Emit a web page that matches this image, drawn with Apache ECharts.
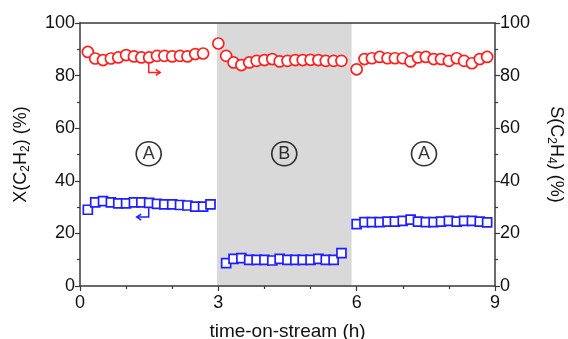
<!DOCTYPE html>
<html>
<head>
<meta charset="utf-8">
<script src="https://cdn.jsdelivr.net/npm/echarts@6/dist/echarts.min.js"></script>
<style>
  html, body { margin: 0; padding: 0; background: #fff; }
  #chart { width: 568px; height: 339px; }
</style>
</head>
<body>
<div id="chart"></div>
<script>
// Time on stream (h) for each measurement, by period (A, B, A)
var circTime1 = [0.17, 0.33, 0.5, 0.67, 0.83, 1.0, 1.17, 1.33, 1.5, 1.67, 1.83, 2.0, 2.17, 2.33, 2.5, 2.67];
var circTime2 = [3.0, 3.17, 3.33, 3.5, 3.67, 3.83, 4.0, 4.17, 4.33, 4.5, 4.67, 4.83, 5.0, 5.17, 5.33, 5.5, 5.67];
var circTime3 = [6.0, 6.17, 6.33, 6.5, 6.67, 6.83, 7.0, 7.17, 7.33, 7.5, 7.67, 7.83, 8.0, 8.17, 8.33, 8.5, 8.67, 8.83];
var sqTime1 = [0.17, 0.33, 0.5, 0.67, 0.83, 1.0, 1.17, 1.33, 1.5, 1.67, 1.83, 2.0, 2.17, 2.33, 2.5, 2.67, 2.83];
var sqTime2 = [3.17, 3.33, 3.5, 3.67, 3.83, 4.0, 4.17, 4.33, 4.5, 4.67, 4.83, 5.0, 5.17, 5.33, 5.5, 5.67];
var sqTime3 = [6.0, 6.17, 6.33, 6.5, 6.67, 6.83, 7.0, 7.17, 7.33, 7.5, 7.67, 7.83, 8.0, 8.17, 8.33, 8.5, 8.67, 8.83];

// Selectivity to ethylene S(C2H4), %
var selS1 = [89.0, 86.5, 85.9, 86.5, 86.9, 87.8, 87.3, 86.9, 86.9, 87.5, 87.5, 87.3, 87.5, 87.3, 88.2, 88.4];
var selS2 = [92.2, 87.5, 85.0, 84.0, 85.0, 85.6, 85.9, 86.3, 85.4, 85.6, 85.9, 85.9, 86.0, 85.9, 85.6, 85.6, 85.6];
var selS3 = [82.4, 86.3, 86.6, 87.1, 86.6, 86.6, 86.6, 85.4, 86.9, 87.1, 86.3, 86.3, 85.6, 86.6, 85.6, 84.7, 86.3, 87.1];

// Acetylene conversion X(C2H2), %
var convX1 = [29.0, 31.8, 32.3, 31.8, 31.4, 31.4, 31.8, 31.8, 31.6, 31.2, 31.0, 31.0, 30.8, 30.6, 30.2, 30.2, 31.0];
var convX2 = [8.7, 10.3, 10.6, 9.9, 9.9, 9.9, 9.7, 10.3, 9.9, 9.9, 9.9, 9.9, 10.3, 9.9, 9.9, 12.5];
var convX3 = [23.5, 24.3, 24.3, 24.3, 24.5, 24.5, 24.8, 25.2, 24.5, 24.3, 24.3, 24.5, 24.8, 24.5, 24.8, 24.8, 24.5, 24.2];

// Period B (shaded), h
var periodB = [2.97, 5.89];
// Period labels [time, value, letter]
var periodLabels = [[1.49, 50.3, 'A'], [4.43, 50.3, 'B'], [7.46, 50.3, 'A']];
// Axis pointers: path in data units, last point is the arrow tip
var arrowS = [[1.49, 85.0], [1.49, 81.2], [1.74, 81.2]];
var arrowX = [[1.49, 29.8], [1.49, 26.2], [1.23, 26.2]];

var RED = '#ff1f1f';
var BLUE = '#1f1fff';
var AXIS = '#3a3a3a';
var FONT = 'Liberation Sans, Arial, sans-serif';

function zip(xs, ys) {
  return xs.map(function (x, i) { return [x, ys[i]]; });
}
var circData = zip(circTime1, selS1).concat(zip(circTime2, selS2), zip(circTime3, selS3));
var sqData = zip(sqTime1, convX1).concat(zip(sqTime2, convX2), zip(sqTime3, convX3));

function arrowSeries(path, color) {
  return {
    type: 'custom',
    yAxisIndex: 0,
    z: 4,
    silent: true,
    data: [0],
    renderItem: function (params, api) {
      var pts = path.map(function (p) { return api.coord(p); });
      var tip = pts[pts.length - 1];
      var prev = pts[pts.length - 2];
      var dir = tip[0] > prev[0] ? 1 : -1;
      var head = 4.5;
      return {
        type: 'group',
        children: [
          { type: 'polyline', shape: { points: pts }, style: { stroke: color, lineWidth: 1.5, fill: null } },
          { type: 'polyline', shape: { points: [[tip[0] - dir * head, tip[1] - 3], tip, [tip[0] - dir * head, tip[1] + 3]] },
            style: { stroke: color, lineWidth: 1.5, fill: null } }
        ]
      };
    }
  };
}

var subRich = {
  sub: { fontSize: 12, fontFamily: FONT, color: '#111', padding: [10, 0, 0, 0] }
};

var chart = echarts.init(document.getElementById('chart'), null, { renderer: 'canvas' });
chart.setOption({
  animation: false,
  backgroundColor: '#ffffff',
  grid: { left: 80, right: 73, top: 23, bottom: 53, show: false, containLabel: false, outerBoundsMode: 'none' },
  xAxis: [
    {
      type: 'value', min: 0, max: 9, interval: 3,
      name: 'time-on-stream (h)', nameLocation: 'middle', nameGap: 36,
      nameTextStyle: { fontSize: 19, fontFamily: FONT, color: '#111' },
      axisLine: { show: true, onZero: false, lineStyle: { color: AXIS, width: 1.5 } },
      axisTick: { show: true, length: 5, lineStyle: { color: AXIS, width: 1.2 } },
      minorTick: { show: true, splitNumber: 3, length: 3, lineStyle: { color: AXIS, width: 1.2 } },
      axisLabel: { fontSize: 18, fontFamily: FONT, color: '#111', margin: 8 },
      splitLine: { show: false }
    },
    {
      type: 'value', min: 0, max: 9, position: 'top',
      axisLine: { show: true, onZero: false, lineStyle: { color: AXIS, width: 1.5 } },
      axisTick: { show: false }, axisLabel: { show: false }, splitLine: { show: false }
    }
  ],
  yAxis: [
    {
      type: 'value', min: 0, max: 100, interval: 20, position: 'left',
      name: 'X(C{sub|2}H{sub|2}) (%)', nameLocation: 'middle', nameRotate: 90, nameGap: 48,
      nameTextStyle: { fontSize: 18, fontFamily: FONT, color: '#111', rich: subRich },
      axisLine: { show: true, onZero: false, lineStyle: { color: AXIS, width: 1.5 } },
      axisTick: { show: true, length: 5, lineStyle: { color: AXIS, width: 1.2 } },
      minorTick: { show: true, splitNumber: 2, length: 3, lineStyle: { color: AXIS, width: 1.2 } },
      axisLabel: { fontSize: 18, fontFamily: FONT, color: '#111', margin: 5 },
      splitLine: { show: false }
    },
    {
      type: 'value', min: 0, max: 100, interval: 20, position: 'right',
      name: 'S(C{sub|2}H{sub|4}) (%)', nameLocation: 'middle', nameRotate: -90, nameGap: 50,
      nameTextStyle: { fontSize: 18, fontFamily: FONT, color: '#111', rich: subRich },
      axisLine: { show: true, onZero: false, lineStyle: { color: AXIS, width: 1.5 } },
      axisTick: { show: true, length: 5, lineStyle: { color: AXIS, width: 1.2 } },
      minorTick: { show: true, splitNumber: 2, length: 3, lineStyle: { color: AXIS, width: 1.2 } },
      axisLabel: { fontSize: 18, fontFamily: FONT, color: '#111', margin: 5 },
      splitLine: { show: false }
    }
  ],
  series: [
    {
      // shaded period B
      type: 'custom', yAxisIndex: 0, z: 0, silent: true, data: [0],
      renderItem: function (params, api) {
        var p0 = api.coord([periodB[0], 100]);
        var p1 = api.coord([periodB[1], 0]);
        return { type: 'rect', shape: { x: p0[0], y: p0[1], width: p1[0] - p0[0], height: p1[1] - p0[1] },
                 style: { fill: '#d9d9d9' } };
      }
    },
    {
      name: 'S(C2H4)', type: 'scatter', yAxisIndex: 1, z: 3,
      symbol: 'circle', symbolSize: 11,
      itemStyle: { color: '#ffffff', borderColor: RED, borderWidth: 1.7, opacity: 1 },
      data: circData
    },
    {
      name: 'X(C2H2)', type: 'scatter', yAxisIndex: 0, z: 3,
      symbol: 'rect', symbolSize: 9,
      itemStyle: { color: '#ffffff', borderColor: BLUE, borderWidth: 1.7, opacity: 1 },
      data: sqData
    },
    {
      type: 'scatter', yAxisIndex: 0, z: 2, silent: true,
      symbol: 'circle', symbolSize: [25, 24],
      itemStyle: { color: 'rgba(0,0,0,0)', borderColor: '#000', borderWidth: 1.6 },
      label: { show: true, position: 'inside', fontSize: 18, fontFamily: FONT, color: '#000',
               formatter: function (p) { return p.value[2]; } },
      data: periodLabels
    },
    arrowSeries(arrowS, RED),
    arrowSeries(arrowX, BLUE)
  ]
});
</script>
</body>
</html>
